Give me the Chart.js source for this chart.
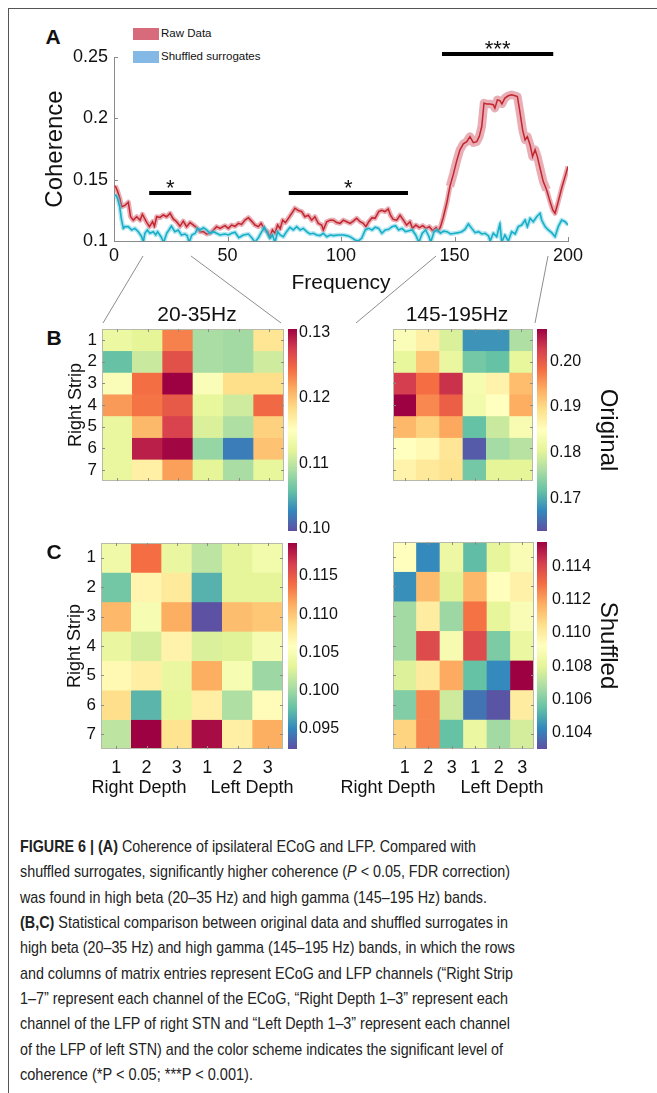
<!DOCTYPE html>
<html>
<head>
<meta charset="utf-8">
<title>Figure 6</title>
<script src="https://cdn.jsdelivr.net/npm/chart.js@4.4.1/dist/chart.umd.min.js"></script>
<style>
  html, body { margin: 0; padding: 0; background: #fff; }
  body { position: relative; width: 657px; height: 1093px; overflow: hidden; font-family: "Liberation Sans", Arial, Helvetica, sans-serif; color: #111; }
  canvas { position: absolute; }
  svg { position: absolute; left: 0; top: 0; }
  .frame { position: absolute; left: 8px; top: 8px; width: 720px; height: 1200px; border-top: 1.5px solid #555; border-left: 1.5px solid #555; }
  .t { position: absolute; white-space: nowrap; line-height: 1; }
  .c { transform: translate(-50%, -50%); }
  .panel { font-weight: bold; font-size: 21px; }
  .sw { position: absolute; width: 26px; height: 12px; }
  .leg { font-size: 11.5px; transform: translateY(-50%); }
  .ttl { font-size: 21px; }
  .grp { font-size: 18px; }
  .cap { position: absolute; left: 20px; white-space: nowrap; font-family: "Liberation Sans Narrow", "Arial Narrow", "Liberation Sans", sans-serif; font-size: 17px; line-height: 20px; color: #222; transform-origin: 0 50%; }
</style>
</head>
<body>
<div class="frame"></div>
<svg width="657" height="1093">
  <g stroke="#707070" stroke-width="0.8">
    <line x1="143" y1="256" x2="103" y2="323"/>
    <line x1="191" y1="256" x2="281" y2="323"/>
    <line x1="436" y1="256" x2="356" y2="323"/>
    <line x1="548" y1="256" x2="535" y2="323"/>
  </g>
</svg>

<div class="t panel c" style="left:53px;top:36px">A</div>
<div class="sw" style="left:133px;top:28px;background:#d86b7b"></div>
<div class="t leg" style="left:161px;top:34px">Raw Data</div>
<div class="sw" style="left:133px;top:51px;background:#84b8e5"></div>
<div class="t leg" style="left:161px;top:57px">Shuffled surrogates</div>
<canvas id="cohChart" width="600" height="290" style="left:20px;top:20px"></canvas>

<div class="t panel c" style="left:54px;top:337px">B</div>
<div class="t ttl c" style="left:197px;top:313px">20-35Hz</div>
<div class="t ttl c" style="left:457px;top:313px">145-195Hz</div>
<canvas id="hmOB" width="236" height="226" style="left:60px;top:317px"></canvas>
<canvas id="cbOB" width="61" height="226" style="left:284px;top:317px"></canvas>
<canvas id="hmOG" width="206" height="226" style="left:339px;top:317px"></canvas>
<canvas id="cbOG" width="94" height="226" style="left:533px;top:317px"></canvas>

<div class="t panel c" style="left:54px;top:551px">C</div>
<canvas id="hmSB" width="236" height="268" style="left:59px;top:531px"></canvas>
<canvas id="cbSB" width="61" height="230" style="left:284px;top:531px"></canvas>
<canvas id="hmSG" width="207" height="269" style="left:339px;top:530px"></canvas>
<canvas id="cbSG" width="94" height="231" style="left:533px;top:530px"></canvas>
<div class="t grp c" style="left:139px;top:787px">Right Depth</div>
<div class="t grp c" style="left:252px;top:787px">Left Depth</div>
<div class="t grp c" style="left:388px;top:787px">Right Depth</div>
<div class="t grp c" style="left:502px;top:787px">Left Depth</div>

<div class="cap" data-w="456" style="top:837px"><b>FIGURE 6 | (A)</b> Coherence of ipsilateral ECoG and LFP. Compared with</div>
<div class="cap" data-w="490" style="top:862px">shuffled surrogates, significantly higher coherence (<i>P</i> &lt; 0.05, FDR correction)</div>
<div class="cap" data-w="467" style="top:888px">was found in high beta (20–35 Hz) and high gamma (145–195 Hz) bands.</div>
<div class="cap" data-w="488" style="top:913px"><b>(B,C)</b> Statistical comparison between original data and shuffled surrogates in</div>
<div class="cap" data-w="495" style="top:938px">high beta (20–35 Hz) and high gamma (145–195 Hz) bands, in which the rows</div>
<div class="cap" data-w="493" style="top:964px">and columns of matrix entries represent ECoG and LFP channels (“Right Strip</div>
<div class="cap" data-w="488" style="top:989px">1–7” represent each channel of the ECoG, “Right Depth 1–3” represent each</div>
<div class="cap" data-w="490" style="top:1014px">channel of the LFP of right STN and “Left Depth 1–3” represent each channel</div>
<div class="cap" data-w="483" style="top:1040px">of the LFP of left STN) and the color scheme indicates the significant level of</div>
<div class="cap" data-w="233" style="top:1065px">coherence (*P &lt; 0.05; ***P &lt; 0.001).</div>

<script>
// ---- panel A: coherence vs frequency, [Hz, coherence] ----
const rawCurve = [
  [0.5,0.1450],[1.5,0.1410],[2.5,0.1350],[3.4,0.1280],[4.8,0.1290],[6.3,0.1316],[7.3,0.1198],[8.5,0.1170],
  [10,0.1198],[11.5,0.1170],[12.5,0.1218],[14.4,0.1152],[15.6,0.1117],[17,0.1157],[17.8,0.1120],[18.8,0.1198],
  [20.3,0.1192],[21.7,0.1212],[23.2,0.1198],[24.7,0.1226],[26.1,0.1180],[27.6,0.1157],[29.1,0.1120],[30.5,0.1162],
  [32,0.1117],[33.5,0.1150],[35,0.1130],[36.4,0.1109],[37.9,0.1076],[39.4,0.1076],[40.8,0.1057],[42.3,0.1063],
  [43.8,0.1090],[45.2,0.1117],[46.7,0.1103],[48.9,0.1125],[50.4,0.1103],[51.8,0.1130],[53.3,0.1120],[54.8,0.1144],
  [56.2,0.1135],[57.7,0.1171],[59.2,0.1190],[60.7,0.1160],[62.1,0.1130],[63.6,0.1117],[64.8,0.1144],[66.2,0.1098],
  [67.7,0.1076],[68.7,0.1035],[69.8,0.1090],[70.9,0.1063],[72.1,0.1130],[73.2,0.1100],[74.3,0.1170],[75.5,0.1150],
  [76.8,0.1185],[78.3,0.1226],[79.7,0.1267],[81.2,0.1248],[82.7,0.1240],[84.1,0.1198],[85.6,0.1210],[87.1,0.1170],
  [88.5,0.1198],[90,0.1144],[91.5,0.1130],[92.2,0.1090],[93.7,0.1157],[95.2,0.1170],[96.6,0.1170],[98.1,0.1150],
  [99.6,0.1144],[101,0.1170],[102.5,0.1157],[104,0.1144],[105.4,0.1162],[106.9,0.1185],[108.4,0.1157],[109.8,0.1144],
  [111,0.1117],[112.2,0.1157],[113.7,0.1190],[115,0.1185],[116.6,0.1240],[117.9,0.1250],[119.4,0.1240],[120.8,0.1261],
  [121.8,0.1210],[123,0.1176],[124.5,0.1170],[126,0.1210],[127.5,0.1170],[128.9,0.1130],[130.4,0.1157],[131.5,0.1103],
  [133,0.1130],[134.5,0.1109],[136,0.1125],[137.4,0.1103],[138.9,0.1117],[140.4,0.1084],[141.9,0.1109],[142.9,0.1084],
  [143.8,0.1115],[145,0.1190],[146.6,0.1310],[148,0.1445],[149.5,0.1545],[151,0.1655],[152.4,0.1743],[153.9,0.1792],
  [155.4,0.1810],[156.8,0.1851],[158.3,0.1802],[159.8,0.1810],[160.9,0.1851],[162,0.1933],[163,0.2124],[164.2,0.2117],
  [165.6,0.2117],[167.1,0.2111],[167.8,0.2083],[168.9,0.2151],[170,0.2145],[170.9,0.2118],[172.2,0.2165],[173.7,0.2184],
  [175.2,0.2192],[176.7,0.2184],[177.7,0.2178],[178.9,0.2042],[180,0.1906],[181.1,0.1824],[182.1,0.1851],[183.3,0.1783],
  [184.4,0.1688],[185.5,0.1743],[186.5,0.1688],[187.7,0.1593],[189.1,0.1484],[190.6,0.1416],[192.1,0.1321],[193.3,0.1253],
  [194.3,0.1226],[195.7,0.1321],[197.2,0.1430],[198.7,0.1525],[200,0.1607]
];
const shufCurve = [
  [0.5,0.1380],[1.5,0.1350],[2.5,0.1280],[3.2,0.1185],[4.1,0.1103],[4.8,0.1117],[6.3,0.1117],[7.8,0.1090],
  [9.2,0.1103],[10.7,0.1076],[12.2,0.1035],[12.9,0.0990],[13.6,0.1063],[14.7,0.1090],[15.8,0.1063],[17.3,0.1076],
  [18.4,0.1050],[19.2,0.1076],[20.7,0.1035],[21.9,0.0990],[23.2,0.1063],[24.2,0.1090],[25.3,0.1122],[26.8,0.1076],
  [28.3,0.1090],[29.7,0.1049],[31.2,0.1057],[32.2,0.1045],[33.1,0.0990],[34.3,0.1049],[35.8,0.1063],[36.8,0.1103],
  [37.9,0.1090],[39.4,0.1109],[40.8,0.1090],[42.3,0.1063],[43.8,0.1076],[45.2,0.1063],[46.7,0.1049],[48.9,0.1057],
  [50.4,0.1049],[51.8,0.1063],[53.3,0.1071],[55,0.1027],[57,0.1049],[59.2,0.1057],[60.7,0.1027],[62.1,0.0990],
  [63.6,0.1027],[65.1,0.1076],[66.2,0.1112],[67.2,0.1076],[68.7,0.1022],[69.8,0.1049],[70.9,0.0990],[72.1,0.1076],
  [73.2,0.1049],[74.6,0.1035],[76,0.1076],[77.5,0.1112],[79,0.1090],[80.5,0.1117],[82,0.1090],[83.4,0.1103],
  [84.9,0.1076],[86.3,0.1057],[87.8,0.1063],[89.3,0.1049],[90.7,0.1044],[92.2,0.1063],[93.7,0.1035],[95.2,0.1049],
  [96.7,0.1044],[98.9,0.1049],[101,0.1049],[102.5,0.1044],[104,0.1035],[106.2,0.1008],[107.6,0.1000],[109.1,0.1022],
  [110.7,0.1090],[112.2,0.1103],[113.7,0.1090],[115.1,0.1112],[116.6,0.1103],[118,0.1063],[119.5,0.1090],[121,0.1095],
  [122.5,0.1117],[124,0.1125],[125.4,0.1090],[126.9,0.1103],[128.4,0.1076],[129.9,0.1084],[131.4,0.1090],[132.9,0.1049],
  [134.3,0.0990],[135.8,0.1063],[137.3,0.1090],[138.8,0.1035],[139.5,0.0990],[141,0.1076],[142.4,0.1090],[143.8,0.1063],
  [145.2,0.1080],[146.7,0.1076],[148.2,0.1057],[150.2,0.1063],[151.7,0.1068],[153.2,0.1076],[154.6,0.1095],[156.1,0.1139],
  [157.6,0.1103],[159.1,0.1068],[160.6,0.1076],[162,0.1057],[163.5,0.1063],[165,0.1041],[165.7,0.1000],[167.1,0.1063],
  [168.6,0.1035],[170,0.1139],[170.8,0.0990],[172.2,0.1049],[173.7,0.1000],[175.2,0.1076],[176.7,0.1057],[178.1,0.1117],
  [179.6,0.1130],[181.1,0.1171],[182.1,0.1117],[183.3,0.1185],[184.7,0.1157],[186.2,0.1198],[187.7,0.1226],[188.4,0.1171],
  [189.9,0.1117],[191.3,0.1090],[192.8,0.1068],[194.3,0.1035],[195.7,0.1117],[197.2,0.1171],[198.7,0.1157],[200,0.1130]
];
const freqTicks = [0, 50, 100, 150, 200];
const cohTicks = [0.1, 0.15, 0.2, 0.25];
const cohTickLabels = ['0.1', '0.15', '0.2', '0.25'];

// significance bars
const sigFrom = [15.5, 77, 144.5];
const sigTo = [34, 129.5, 193.5];
const sigLevel = [0.1392, 0.1392, 0.2525];
const sigStars = ['*', '*', '***'];

// ---- panels B, C: rows = Right Strip 1-7, cols = Right Depth 1-3, Left Depth 1-3 ----
const colLabels = ['1', '2', '3', '1', '2', '3'];
const rowLabels = ['1', '2', '3', '4', '5', '6', '7'];

const origBeta = [
  [0.1129, 0.1120, 0.1234, 0.1089, 0.1086, 0.1176],
  [0.1059, 0.1105, 0.1262, 0.1089, 0.1086, 0.1108],
  [0.1145, 0.1243, 0.1305, 0.1145, 0.1182, 0.1182],
  [0.1222, 0.1240, 0.1256, 0.1123, 0.1108, 0.1246],
  [0.1126, 0.1206, 0.1271, 0.1114, 0.1092, 0.1191],
  [0.1126, 0.1290, 0.1302, 0.1080, 0.1022, 0.1200],
  [0.1126, 0.1166, 0.1219, 0.1120, 0.1089, 0.1123]
];
const origGamma = [
  [0.1841, 0.1872, 0.1797, 0.1683, 0.1683, 0.1766],
  [0.1810, 0.1916, 0.1815, 0.1727, 0.1718, 0.1810],
  [0.2026, 0.1982, 0.2035, 0.1832, 0.1868, 0.1925],
  [0.2070, 0.1964, 0.1995, 0.1828, 0.1850, 0.1938],
  [0.1929, 0.1907, 0.1942, 0.1718, 0.1784, 0.1837],
  [0.1850, 0.1859, 0.1885, 0.1639, 0.1758, 0.1771],
  [0.1868, 0.1881, 0.1890, 0.1727, 0.1806, 0.1806]
];
const shufBeta = [
  [0.1042, 0.1139, 0.1037, 0.1013, 0.1032, 0.1045],
  [0.0983, 0.1067, 0.1077, 0.0970, 0.1032, 0.1032],
  [0.1107, 0.1050, 0.1112, 0.0925, 0.1104, 0.1099],
  [0.1037, 0.1024, 0.1069, 0.1026, 0.1029, 0.1048],
  [0.1064, 0.1072, 0.1037, 0.1112, 0.1050, 0.0999],
  [0.1085, 0.0972, 0.1034, 0.1072, 0.1007, 0.1061],
  [0.1013, 0.1193, 0.1083, 0.1188, 0.1072, 0.1112]
];
const shufGamma = [
  [0.1093, 0.1043, 0.1084, 0.1054, 0.1081, 0.1089],
  [0.1044, 0.1114, 0.1079, 0.1115, 0.1093, 0.1098],
  [0.1066, 0.1100, 0.1065, 0.1129, 0.1081, 0.1089],
  [0.1066, 0.1139, 0.1088, 0.1139, 0.1059, 0.1083],
  [0.1078, 0.1101, 0.1118, 0.1055, 0.1043, 0.1155],
  [0.1060, 0.1125, 0.1075, 0.1038, 0.1031, 0.1100],
  [0.1108, 0.1125, 0.1055, 0.1083, 0.1066, 0.1076]
];

// colour bar limits and ticks
const origBetaRange = [0.0997, 0.1305];
const origBetaTicks = [0.10, 0.11, 0.12, 0.13];
const origGammaRange = [0.163, 0.207];
const origGammaTicks = [0.17, 0.18, 0.19, 0.20];
const shufBetaRange = [0.0924, 0.1193];
const shufBetaTicks = [0.095, 0.100, 0.105, 0.110, 0.115];
const shufGammaRange = [0.1030, 0.1155];
const shufGammaTicks = [0.104, 0.106, 0.108, 0.110, 0.112, 0.114];

Chart.defaults.font.family = '"Liberation Sans", Arial, Helvetica, sans-serif';
Chart.defaults.color = '#111';
Chart.defaults.animation = false;

// reversed Spectral colormap
const spectralStops = ['#5e4fa2', '#3288bd', '#66c2a5', '#abdda4', '#e6f598', '#ffffbf',
  '#fee08b', '#fdae61', '#f46d43', '#d53e4f', '#9e0142'];

function hexRgb(h) {
  const n = parseInt(h.slice(1), 16);
  return [(n >> 16) & 255, (n >> 8) & 255, n & 255];
}

function spectral(t) {
  t = Math.max(0, Math.min(1, t));
  const p = t * (spectralStops.length - 1);
  const i = Math.min(Math.floor(p), spectralStops.length - 2);
  const f = p - i;
  const a = hexRgb(spectralStops[i]), b = hexRgb(spectralStops[i + 1]);
  const c = a.map((v, k) => Math.round(v + (b[k] - v) * f));
  return 'rgb(' + c.join(',') + ')';
}

// fixed axis size, no extra padding from the labels
function fixSize(size, horizontal) {
  return function (s) {
    s.paddingTop = 0; s.paddingBottom = 0; s.paddingLeft = 0; s.paddingRight = 0;
    if (horizontal) s.height = size; else s.width = size;
  };
}

// stars over the significance bars
const sigStarPlugin = {
  id: 'sigStars',
  afterDatasetsDraw(chart) {
    const { ctx, scales: { x, y } } = chart;
    ctx.save();
    ctx.font = '22px "Liberation Sans", Arial, sans-serif';
    ctx.textAlign = 'center';
    ctx.textBaseline = 'alphabetic';
    ctx.fillStyle = '#111';
    sigStars.forEach(function (s, i) {
      ctx.fillText(s, x.getPixelForValue((sigFrom[i] + sigTo[i]) / 2), y.getPixelForValue(sigLevel[i]) + 2.5);
    });
    ctx.restore();
  }
};

// matlab style ticks pointing in
const ticksInPlugin = {
  id: 'ticksIn',
  afterDraw(chart) {
    const { ctx, chartArea: a, scales: { x, y } } = chart;
    ctx.save();
    ctx.strokeStyle = '#8a8a8a';
    ctx.lineWidth = 1;
    ctx.beginPath();
    freqTicks.forEach(function (v) {
      const px = Math.round(x.getPixelForValue(v)) + 0.5;
      ctx.moveTo(px, a.bottom); ctx.lineTo(px, a.bottom - 4);
    });
    cohTicks.forEach(function (v) {
      const py = Math.round(y.getPixelForValue(v)) + 0.5;
      ctx.moveTo(a.left, py); ctx.lineTo(a.left + 4, py);
    });
    ctx.stroke();
    ctx.restore();
  }
};

// box around a heat map with small ticks at the cell centres
const framePlugin = {
  id: 'frame',
  afterDatasetsDraw(chart) {
    const { ctx, chartArea: a, scales: { x, y } } = chart;
    ctx.save();
    ctx.strokeStyle = '#b7baa8';
    ctx.lineWidth = 1;
    ctx.strokeRect(a.left + 0.5, a.top + 0.5, a.width - 1, a.height - 1);
    ctx.strokeStyle = '#8c8c8c';
    ctx.beginPath();
    colLabels.forEach(function (c, i) {
      const px = Math.round(x.getPixelForValue(i)) + 0.5;
      ctx.moveTo(px, a.top); ctx.lineTo(px, a.top + 3);
      ctx.moveTo(px, a.bottom); ctx.lineTo(px, a.bottom - 3);
    });
    rowLabels.forEach(function (r, i) {
      const py = Math.round(y.getPixelForValue(i + 0.5)) + 0.5;
      ctx.moveTo(a.left, py); ctx.lineTo(a.left + 3, py);
      ctx.moveTo(a.right, py); ctx.lineTo(a.right - 3, py);
    });
    ctx.stroke();
    ctx.restore();
  }
};

function toPoints(curve) {
  return curve.map(function (p) { return { x: p[0], y: p[1] }; });
}

// ---------- panel A ----------
const sigSets = sigFrom.map(function (f, i) {
  return {
    label: 'sig' + i,
    data: [{ x: f, y: sigLevel[i] }, { x: sigTo[i], y: sigLevel[i] }],
    borderColor: '#000', borderWidth: 4, borderCapStyle: 'butt',
    pointRadius: 0, order: 0, clip: false
  };
});

new Chart(document.getElementById('cohChart'), {
  type: 'line',
  data: {
    datasets: sigSets.concat([
      { label: 'Shuffled surrogates', data: toPoints(shufCurve), borderColor: '#15afc8', borderWidth: 1.6,
        pointRadius: 0, order: 1, clip: 0 },
      { label: 'Shuffled band', data: toPoints(shufCurve), borderColor: 'rgba(105,205,225,0.5)', borderWidth: 4.5,
        borderJoinStyle: 'round', pointRadius: 0, order: 2, clip: 0 },
      { label: 'Raw Data', data: toPoints(rawCurve), borderColor: '#c4262e', borderWidth: 1.5,
        pointRadius: 0, order: 3, clip: 0 },
      { label: 'Raw band', data: toPoints(rawCurve), borderColor: 'rgba(214,105,120,0.55)', borderWidth: 5,
        borderJoinStyle: 'round', pointRadius: 0, order: 4, clip: 0,
        segment: { borderWidth: function (c) { return (c.p0.parsed.x > 147 && c.p1.parsed.x < 192) ? 8.5 : 5; } } }
    ])
  },
  options: {
    responsive: false,
    layout: { padding: { left: 0, top: 37, right: 52, bottom: 0 } },
    plugins: { legend: { display: false }, tooltip: { enabled: false } },
    scales: {
      x: {
        type: 'linear', min: 0, max: 200,
        afterBuildTicks: function (s) { s.ticks = freqTicks.map(function (v) { return { value: v }; }); },
        afterFit: fixSize(69, true),
        grid: { display: false, drawTicks: false },
        border: { color: '#8a8a8a' },
        ticks: { padding: 4, font: { size: 18 }, maxRotation: 0 },
        title: { display: true, text: 'Frequency', font: { size: 21 }, padding: { top: 0, bottom: 14 } }
      },
      y: {
        type: 'linear', min: 0.1, max: 0.25,
        afterBuildTicks: function (s) { s.ticks = cohTicks.map(function (v) { return { value: v }; }); },
        afterFit: fixSize(94, false),
        grid: { display: false, drawTicks: false },
        border: { color: '#8a8a8a' },
        ticks: {
          padding: 6, font: { size: 18 },
          callback: function (v) {
            const i = cohTicks.findIndex(function (t) { return Math.abs(t - v) < 1e-9; });
            return i < 0 ? '' : cohTickLabels[i];
          }
        },
        title: { display: true, text: 'Coherence', font: { size: 24 }, padding: { top: 20.5, bottom: 0 } }
      }
    }
  },
  plugins: [sigStarPlugin, ticksInPlugin]
});

// ---------- heat maps ----------
function heatmap(id, rows, range, showRows, showCols) {
  const lo = range[0], hi = range[1];
  return new Chart(document.getElementById(id), {
    type: 'bar',
    data: {
      labels: colLabels,
      datasets: rows.map(function (row, r) {
        return {
          label: 'Right Strip ' + rowLabels[r],
          data: row.map(function () { return 1; }),
          backgroundColor: row.map(function (v) { return spectral((v - lo) / (hi - lo)); }),
          borderWidth: 0, barPercentage: 1, categoryPercentage: 1
        };
      })
    },
    options: {
      responsive: false,
      layout: { padding: { top: 12, right: 12, left: showRows ? 0 : 12, bottom: showCols ? 0 : 12 } },
      plugins: { legend: { display: false }, tooltip: { enabled: false } },
      scales: {
        x: {
          stacked: true, display: showCols,
          grid: { display: false, drawTicks: false }, border: { display: false },
          ticks: { padding: 8, font: { size: 18 }, maxRotation: 0 },
          afterFit: fixSize(50, true)
        },
        y: {
          type: 'linear', stacked: true, reverse: true, min: 0, max: 7, display: showRows,
          grid: { display: false, drawTicks: false }, border: { display: false },
          afterBuildTicks: function (s) { s.ticks = rowLabels.map(function (l, i) { return { value: i + 0.5 }; }); },
          ticks: {
            autoSkip: false, padding: 5, font: { size: 17 },
            callback: function (v) { return rowLabels[Math.round(v - 0.5)]; }
          },
          title: { display: true, text: 'Right Strip', font: { size: 18 }, padding: { top: 5.5, bottom: 0 } },
          afterFit: fixSize(42, false)
        }
      }
    },
    plugins: [framePlugin]
  });
}

function colorbar(id, range, ticks, decimals, axisWidth, labelPad, title) {
  return new Chart(document.getElementById(id), {
    type: 'bar',
    data: {
      labels: ['scale'],
      datasets: [{
        data: [range],
        backgroundColor: function (ctx) {
          const a = ctx.chart.chartArea;
          if (!a) return '#ccc';
          const g = ctx.chart.ctx.createLinearGradient(0, a.bottom, 0, a.top);
          spectralStops.forEach(function (c, i) { g.addColorStop(i / (spectralStops.length - 1), c); });
          return g;
        },
        borderWidth: 0, barPercentage: 1, categoryPercentage: 1
      }]
    },
    options: {
      responsive: false,
      layout: { padding: { top: 12, bottom: 12, left: 4, right: 0 } },
      plugins: { legend: { display: false }, tooltip: { enabled: false } },
      scales: {
        x: { display: false },
        y: {
          position: 'right', min: range[0], max: range[1],
          grid: { display: false, drawTicks: false }, border: { display: false },
          afterBuildTicks: function (s) { s.ticks = ticks.map(function (v) { return { value: v }; }); },
          ticks: { padding: labelPad, font: { size: 16 }, callback: function (v) { return v.toFixed(decimals); } },
          title: { display: !!title, text: title || '', font: { size: 24 }, padding: { top: 4.6, bottom: 0 } },
          afterFit: fixSize(axisWidth, false)
        }
      }
    }
  });
}

heatmap('hmOB', origBeta, origBetaRange, true, false);
heatmap('hmOG', origGamma, origGammaRange, false, false);
heatmap('hmSB', shufBeta, shufBetaRange, true, true);
heatmap('hmSG', shufGamma, shufGammaRange, false, true);

colorbar('cbOB', origBetaRange, origBetaTicks, 2, 48, 2, null);
colorbar('cbOG', origGammaRange, origGammaTicks, 2, 80, 3, 'Original');
colorbar('cbSB', shufBetaRange, shufBetaTicks, 3, 48, 2, null);
colorbar('cbSG', shufGammaRange, shufGammaTicks, 3, 80, 5, 'Shuffled');

// squeeze each caption line to the width it has in the figure
document.querySelectorAll('.cap').forEach(function (el) {
  const w = +el.dataset.w;
  const nat = el.getBoundingClientRect().width;
  if (nat > 0) el.style.transform = 'scaleX(' + (w / nat).toFixed(4) + ')';
});
</script>
</body>
</html>
